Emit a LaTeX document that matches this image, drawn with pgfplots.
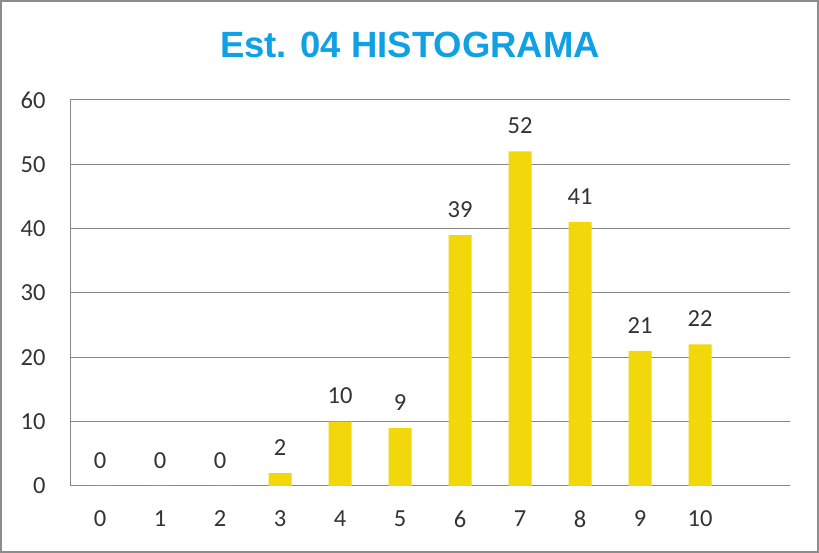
\documentclass[border=0pt]{standalone}
\usepackage{pgfplots}
\pgfplotsset{compat=1.18}
\usepackage{fontspec}
\setmainfont{Carlito}
\newfontfamily\titlefont{Liberation Sans}
\definecolor{barcol}{RGB}{242,215,10}
\definecolor{titlecol}{RGB}{16,160,228}
\definecolor{gridcol}{RGB}{136,136,136}
\definecolor{framecol}{RGB}{140,140,140}
\begin{document}
\begin{tikzpicture}[x=1pt,y=1pt]
\draw[framecol,line width=2pt] (1,1) rectangle (818,552);
\node[font=\titlefont\bfseries\fontsize{36.5}{40}\selectfont,text=titlecol] at (410,508) {Est. 04 HISTOGRAMA};
\begin{axis}[
  at={(70pt,67pt)}, anchor=south west,
  width=720pt, height=386pt, scale only axis,
  xmin=-0.5, xmax=11.5, ymin=0, ymax=60,
  ytick={0,10,...,60},
  xtick={0,...,10},
  xticklabels={0,1,2,3,4,5,6,7,8,9,10},
  axis x line*=bottom, axis y line*=left,
  axis line style={gridcol,line width=1pt,-},
  ymajorgrids, grid style={gridcol,line width=1pt},
  major tick length=0pt,
  /pgf/number format/assume math mode=true,
  tick label style={font=\fontsize{24.5}{28}\selectfont, text=black!80},
  yticklabel style={xshift=-21pt},
  xticklabel style={yshift=-21pt},
  ybar, bar width=23pt,
  nodes near coords,
  every node near coord/.append style={font=\fontsize{24.5}{28}\selectfont, text=black!80, yshift=14pt},
]
\addplot[fill=barcol, draw=none] coordinates {(0,0) (1,0) (2,0) (3,2) (4,10) (5,9) (6,39) (7,52) (8,41) (9,21) (10,22)};
\end{axis}
\end{tikzpicture}
\end{document}
